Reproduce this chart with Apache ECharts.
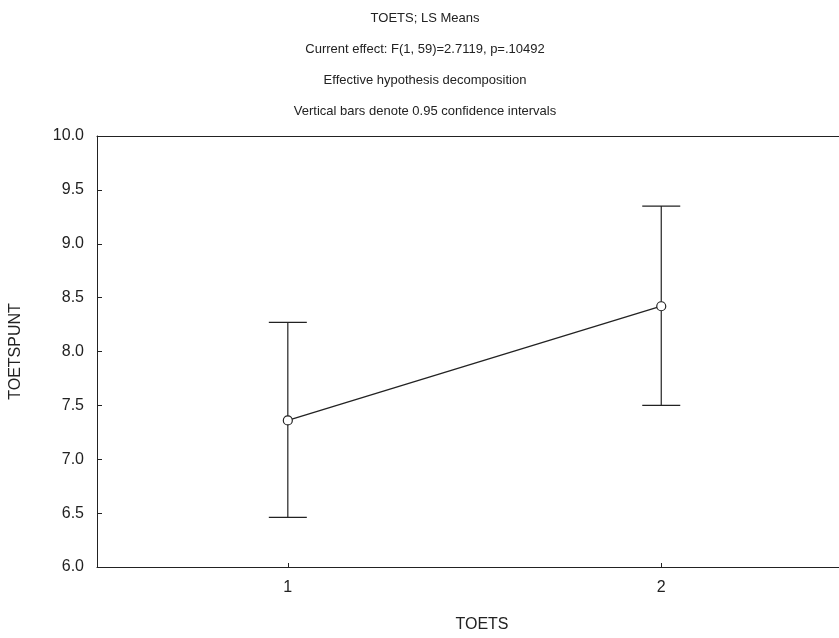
<!DOCTYPE html>
<html>
<head>
<meta charset="utf-8">
<script src="https://cdn.jsdelivr.net/npm/echarts@6/dist/echarts.min.js"></script>
<style>
html,body{margin:0;padding:0;background:#fff;}
#main{width:839px;height:638px;}
</style>
</head>
<body>
<div id="main"></div>
<script>
var categories = [1, 2];
var means = [7.36, 8.42];
var lower = [6.46, 7.50];
var upper = [8.27, 9.35];
var yTicks = [6.0, 6.5, 7.0, 7.5, 8.0, 8.5, 9.0, 9.5, 10.0];
var titles = [
  'TOETS; LS Means',
  'Current effect: F(1, 59)=2.7119, p=.10492',
  'Effective hypothesis decomposition',
  'Vertical bars denote 0.95 confidence intervals'
];

var ink = '#222';
var font = 'Liberation Sans, Arial, sans-serif';
var xMin = 0.489, xMax = 2.476;

var chart = echarts.init(document.getElementById('main'));

var titleCfg = titles.map(function (t, i) {
  return {
    text: t, left: 420, top: 7 + i * 31, textAlign: 'center',
    textStyle: { fontSize: 13, fontWeight: 'normal', color: ink, fontFamily: font }
  };
});

var lineData = categories.map(function (c, i) { return [c, means[i]]; });
var errData = categories.map(function (c, i) { return [c, lower[i], upper[i]]; });

chart.setOption({
  animation: false,
  backgroundColor: '#fff',
  title: titleCfg,
  grid: { left: 96, top: 136, right: 0, bottom: 70 },
  xAxis: [
    {
      type: 'value', min: xMin, max: xMax,
      name: 'TOETS', nameLocation: 'middle', nameGap: 50,
      nameTextStyle: { fontSize: 16, color: ink, fontFamily: font, padding: [0, 0, 0, 28] },
      axisLine: { show: true, lineStyle: { color: ink, width: 1 } },
      axisTick: { show: true, inside: true, length: 4, customValues: categories, lineStyle: { color: ink } },
      axisLabel: { customValues: categories, fontSize: 16, color: ink, fontFamily: font, margin: 13 },
      splitLine: { show: false }
    },
    {
      type: 'value', min: xMin, max: xMax, position: 'top',
      axisLine: { show: true, lineStyle: { color: ink, width: 1 } },
      axisTick: { show: false },
      axisLabel: { show: false },
      splitLine: { show: false }
    }
  ],
  yAxis: {
    type: 'value', min: 6, max: 10, interval: 0.5,
    name: 'TOETSPUNT', nameLocation: 'middle', nameGap: 73,
    nameTextStyle: { fontSize: 16, color: ink, fontFamily: font },
    axisLine: { show: true, lineStyle: { color: ink, width: 1 } },
    axisTick: { show: true, inside: true, length: 5, lineStyle: { color: ink } },
    axisLabel: {
      fontSize: 16, color: ink, fontFamily: font, margin: 13,
      formatter: function (v) { return v.toFixed(1); }
    },
    splitLine: { show: false }
  },
  series: [
    {
      type: 'custom',
      data: errData,
      z: 2,
      renderItem: function (params, api) {
        var x = api.value(0);
        var lo = api.coord([x, api.value(1)]);
        var hi = api.coord([x, api.value(2)]);
        var hw = 19;
        var st = { stroke: ink, lineWidth: 1.2 };
        return {
          type: 'group',
          children: [
            { type: 'line', shape: { x1: lo[0], y1: lo[1], x2: hi[0], y2: hi[1] }, style: st },
            { type: 'line', shape: { x1: lo[0] - hw, y1: lo[1], x2: lo[0] + hw, y2: lo[1] }, style: st },
            { type: 'line', shape: { x1: hi[0] - hw, y1: hi[1], x2: hi[0] + hw, y2: hi[1] }, style: st }
          ]
        };
      }
    },
    {
      type: 'line',
      data: lineData,
      z: 3,
      symbol: 'circle',
      symbolSize: 9,
      showAllSymbol: true,
      lineStyle: { color: ink, width: 1.3 },
      itemStyle: { color: '#fff', borderColor: ink, borderWidth: 1.2 }
    }
  ]
});
</script>
</body>
</html>
